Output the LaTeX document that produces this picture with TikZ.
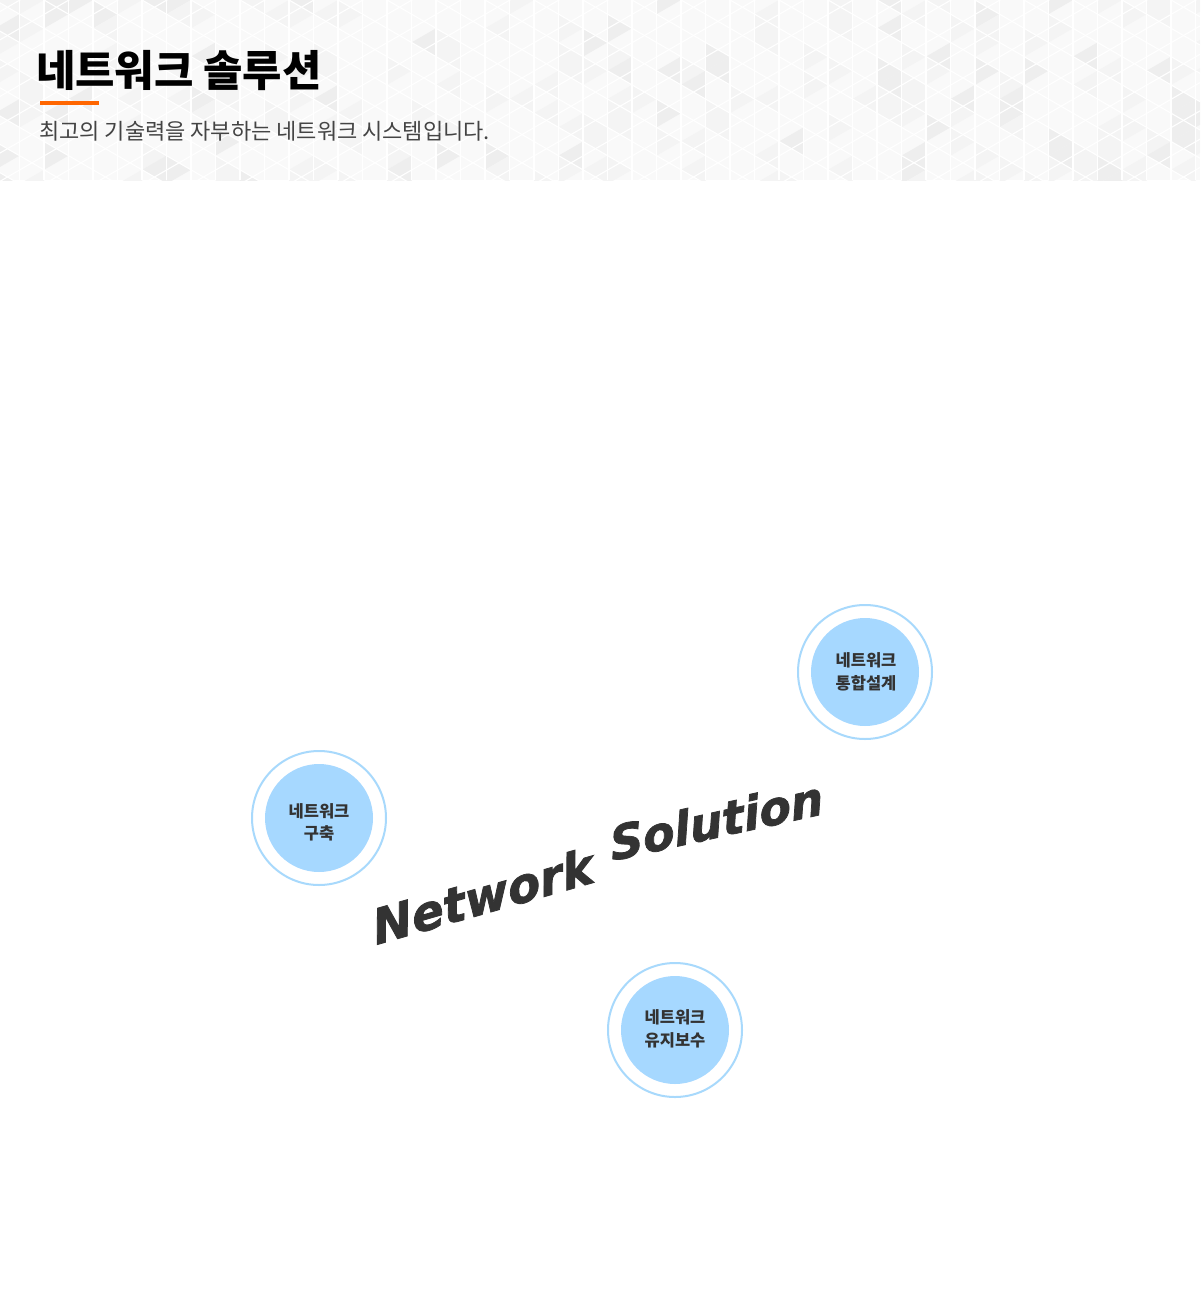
\documentclass[tikz,border=0pt]{standalone}
\usepackage{fontspec}
\setmainfont{Liberation Sans}
\newfontfamily\kr{Noto Sans CJK KR}
\newfontfamily\nsfont[FakeBold=1.6, FakeSlant=0.1]{DejaVu Sans}
\definecolor{bgbase}{HTML}{F9F9F9}
\definecolor{trimid}{HTML}{F4F4F4}
\definecolor{tridark}{HTML}{EEEEEE}
\definecolor{accent}{HTML}{FF6600}
\definecolor{subgray}{HTML}{444444}
\definecolor{ringblue}{HTML}{A8D9FC}
\definecolor{diskblue}{HTML}{A6D8FF}
\definecolor{darktext}{HTML}{333333}
\tikzset{
  ring/.style={circle, draw=ringblue, line width=2pt, minimum size=134pt, inner sep=0pt},
  disk/.style={circle, fill=diskblue, minimum size=108pt, inner sep=0pt},
  disklabel/.style={inner sep=0pt, align=center, text=darktext,
    font=\kr\bfseries\fontsize{16.5}{22.5}\selectfont},
  gridline/.style={white, line width=1.1pt},
  slogan/.style={anchor=base west, inner sep=0pt, text=darktext}
}
\begin{document}
\begin{tikzpicture}[x=1pt,y=-1pt]
\useasboundingbox (0,0) rectangle (1200,1309);
\fill[white] (0,0) rectangle (1200,1309);
% header background with triangle pattern
\begin{scope}
  \clip (0,0) rectangle (1200,180);
  \fill[bgbase] (0,0) rectangle (1200,180);
  \pgfmathsetseed{11}
  \foreach \k in {0,...,50} {
    \foreach \j in {-1,...,7} {
      \pgfmathsetmacro{\xl}{\k*24.5-5}
      \pgfmathsetmacro{\xr}{\xl+24.5}
      \pgfmathsetmacro{\ya}{\j*28.3+mod(\k,2)*14.15}
      \pgfmathrandominteger{\ra}{1}{20}
      \pgfmathrandominteger{\rb}{1}{20}
      \ifnum\ra<3
        \fill[tridark] (\xl,\ya) -- (\xl,\ya+28.3) -- (\xr,\ya+14.15) -- cycle;
      \else\ifnum\ra<7
        \fill[trimid] (\xl,\ya) -- (\xl,\ya+28.3) -- (\xr,\ya+14.15) -- cycle;
      \fi\fi
      \ifnum\rb<3
        \fill[tridark] (\xr,\ya+14.15) -- (\xr,\ya+42.45) -- (\xl,\ya+28.3) -- cycle;
      \else\ifnum\rb<7
        \fill[trimid] (\xr,\ya+14.15) -- (\xr,\ya+42.45) -- (\xl,\ya+28.3) -- cycle;
      \fi\fi
    }
  }
  \foreach \k in {0,...,50} {
    \draw[gridline] (\k*24.5-5,0) -- (\k*24.5-5,180);
  }
  \foreach \j in {-45,...,8} {
    \draw[gridline] (-5,\j*28.3) -- (1245,\j*28.3+721.9);
    \draw[gridline] (-5,\j*28.3+721.9) -- (1245,\j*28.3);
  }
\end{scope}
% title block
\node[anchor=base west, inner sep=0pt, text=black] (title) at (36,86)
  {\kr\bfseries\fontsize{42.8}{50}\selectfont 네트워크 솔루션};
\fill[accent] (40,101) rectangle (99,105);
\node[anchor=base west, inner sep=0pt, text=subgray] (subtitle) at (39,139)
  {\kr\fontsize{22}{26}\selectfont 최고의 기술력을 자부하는 네트워크 시스템입니다.};
% circles
\node[ring] (r1) at (865,672) {};
\node[disk] (d1) at (865,672) {};
\node[disklabel] (t1) at (866,672) {네트워크\\통합설계};
\node[ring] (r2) at (319,818) {};
\node[disk] (d2) at (319,818) {};
\node[disklabel] (t2) at (319,822.5) {네트워크\\구축};
\node[ring] (r3) at (675,1030) {};
\node[disk] (d3) at (675,1030) {};
\node[disklabel] (t3) at (675,1029) {네트워크\\유지보수};
% slanted caption
\node[slogan, rotate=16] (ns1) at (376,945)
  {\nsfont\bfseries\itshape\fontsize{48}{52}\selectfont Network};
\node[slogan, rotate=12.5] (ns2) at (612,861)
  {\nsfont\bfseries\itshape\fontsize{46.5}{52}\selectfont Solution};
\end{tikzpicture}
\end{document}
